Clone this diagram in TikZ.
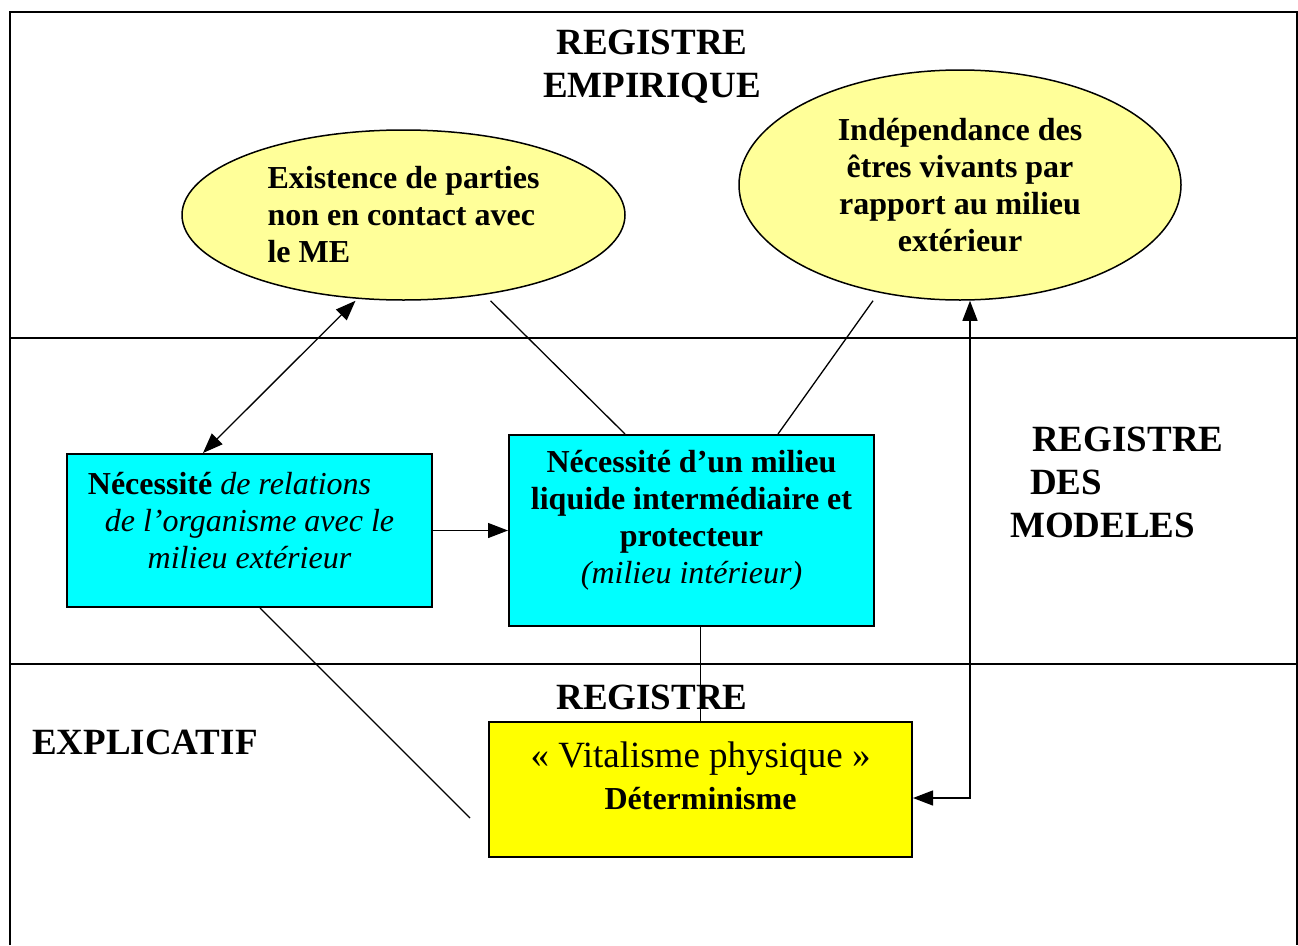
\documentclass[tikz,border=0pt]{standalone}
\usepackage{fontspec}
\setmainfont{Liberation Serif}
\usetikzlibrary{arrows.meta,calc,shapes.geometric}
\definecolor{paleyellow}{HTML}{FFFF99}
\definecolor{aqua}{HTML}{00FFFF}
\definecolor{brightyellow}{HTML}{FFFF00}
\begin{document}
\begin{tikzpicture}[x=1pt,y=-1pt,
  rule/.style={line width=2pt},
  conn/.style={line width=1.3pt},
  tipend/.style={-{Triangle[length=20pt,width=15pt]}},
  tipboth/.style={{Triangle[length=20pt,width=15pt]}-{Triangle[length=20pt,width=15pt]}},
  bubble/.style={ellipse, draw, line width=1.5pt, fill=paleyellow, inner sep=0pt,
    font=\fontsize{32pt}{37pt}\selectfont\bfseries},
  cyanbox/.style={rectangle, draw, line width=2pt, fill=aqua, inner sep=0pt},
  yellowbox/.style={rectangle, draw, line width=2pt, fill=brightyellow, inner sep=0pt},
  bodytxt/.style={inner sep=0pt, font=\fontsize{32pt}{37pt}\selectfont},
  titletxt/.style={inner sep=0pt, font=\fontsize{37pt}{43pt}\selectfont\bfseries},
]
\useasboundingbox (0,0) rectangle (1298,945);
% frame
\draw[rule] (10,945) -- (10,12) -- (1297,12) -- (1297,945);
\draw[rule] (10,338) -- (1297,338);
\draw[rule] (10,664) -- (1297,664);

% titles
\node[titletxt, align=center] (empir) at (652,66.5) {REGISTRE\\EMPIRIQUE};
\node[titletxt, align=left, anchor=west] (modeles) at (1010,482) {\hspace*{22pt}REGISTRE\\\hspace*{20pt}DES\\MODELES};
\node[titletxt] (explreg) at (652,697) {REGISTRE};
\node[titletxt, anchor=west] (explic) at (32,742) {EXPLICATIF};

% ellipses
\node[bubble, minimum width=443pt, minimum height=170pt, align=left] (exist) at (403.5,215)
  {Existence de parties\\non en contact avec\\le ME};
\node[bubble, minimum width=442pt, minimum height=230pt, align=center] (indep) at (960,185)
  {Indépendance des\\êtres vivants par\\rapport au milieu\\extérieur};

% boxes
\node[cyanbox, minimum width=365pt, minimum height=153pt] (relat) at (249.5,530.5) {};
\node[bodytxt, align=center] (relattxt) at ([yshift=10pt]relat.center)
  {\textbf{Nécessité} \textit{de relations}\hspace*{40pt}\\\textit{de l’organisme avec le}\\\textit{milieu extérieur}};
\node[cyanbox, minimum width=365pt, minimum height=191pt] (liquid) at (691.5,530.5) {};
\node[bodytxt, align=center] (liquidtxt) at ([yshift=10pt]liquid.center)
  {\textbf{Nécessité d’un milieu}\\\textbf{liquide intermédiaire et}\\\textbf{protecteur}\\\textit{(milieu intérieur)}};
\node[yellowbox, minimum width=423pt, minimum height=135pt] (vital) at (700.5,789.5) {};
\node[inner sep=0pt, align=center, font=\fontsize{37pt}{42pt}\selectfont] (vitaltxt) at ([yshift=13.5pt]vital.center)
  {« Vitalisme physique »\\\fontsize{32pt}{42pt}\selectfont\bfseries Déterminisme};

% connectors
\draw[conn, tipboth] ([xshift=-48pt]exist.south) -- ([xshift=-46.5pt]relat.north);
\draw[conn] ([xshift=87pt]exist.south) -- ([xshift=-66.5pt]liquid.north);
\draw[conn] ([xshift=-87pt]indep.south) -- ([xshift=86.5pt]liquid.north);
\draw[conn, tipend] (relat.east) -- (liquid.west);
\coordinate (freeend) at (470,818);
\draw[conn] ([xshift=10.5pt]relat.south) -- (freeend);
\draw[conn] (liquid.south -| vital.north) -- (vital.north);
\draw[conn, tipboth] ([xshift=10pt]indep.south) |- ([yshift=-8.5pt]vital.east);
\end{tikzpicture}
\end{document}
